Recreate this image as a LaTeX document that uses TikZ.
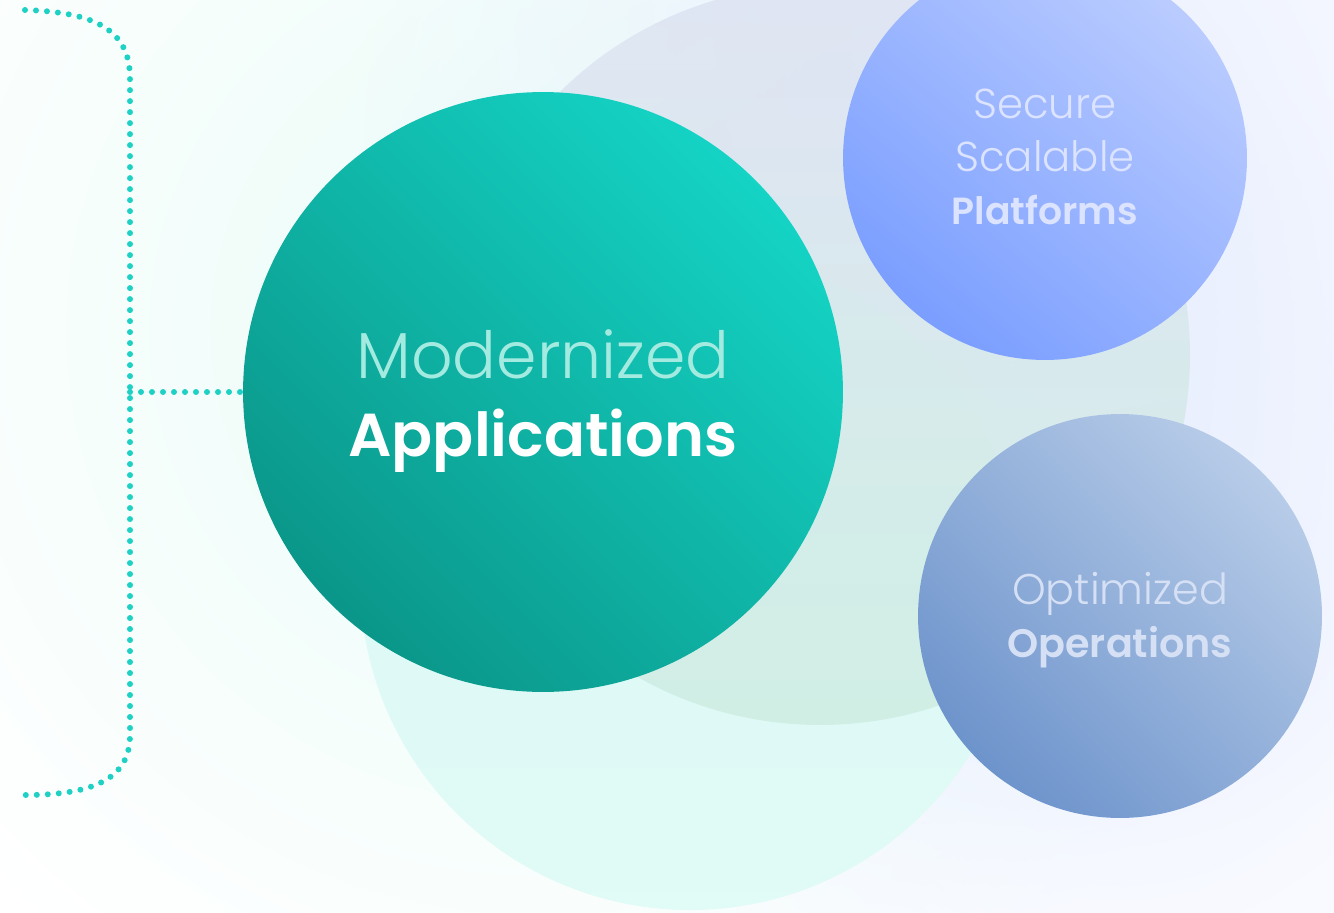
\documentclass[tikz,border=0pt]{standalone}
\usepackage{fontspec}
\setmainfont{Poppins}
\newfontfamily\thinfont{Poppins Light}
\newfontfamily\heavyfont{Poppins SemiBold}
\usetikzlibrary{fadings}
\usetikzlibrary{positioning}
\definecolor{mdots}{rgb}{0.12, 0.82, 0.77}
\definecolor{mtealdark}{rgb}{0.04, 0.59, 0.54}
\definecolor{mteallight}{rgb}{0.08, 0.83, 0.77}
\definecolor{modtext}{rgb}{0.64, 0.92, 0.88}
\definecolor{mbluedark}{rgb}{0.48, 0.62, 1.0}
\definecolor{mbluelight}{rgb}{0.73, 0.80, 1.0}
\definecolor{mslatedark}{rgb}{0.43, 0.58, 0.80}
\definecolor{mslatelight}{rgb}{0.72, 0.80, 0.91}
\definecolor{mbluetext}{rgb}{0.86, 0.89, 1.0}
\definecolor{mslatetext}{rgb}{0.84, 0.88, 0.96}
\definecolor{mmint}{rgb}{0.86, 0.98, 0.96}
\definecolor{mgreyblue}{rgb}{0.87, 0.89, 0.95}
\definecolor{mgreymint}{rgb}{0.81, 0.93, 0.89}
\definecolor{mglow}{rgb}{0.86, 0.98, 0.95}
\definecolor{mlilac}{rgb}{0.88, 0.91, 1.0}
\tikzfading[name=glowfade, inner color=transparent!0, outer color=transparent!100]
\tikzset{bubble/.style = {circle, inner sep = 0}}
\tikzset{caption/.style = {align = center, inner sep = 0}}
\tikzset{dotline/.style = {mdots, line width = 0.12cm, line cap = round, dash pattern = on 0pt off 0.22cm}}

\begin{document}
\begin{tikzpicture}[x=0.02cm, y=-0.02cm]
  \useasboundingbox (0, 0) rectangle (1334, 912);

  % soft glows behind everything
  \fill [mglow, opacity = 0.6, path fading = glowfade] (540, 330) circle (780);
  \fill [mlilac, opacity = 0.7, path fading = glowfade] (1045, 158) circle (700);
  \fill [mlilac, opacity = 0.55, path fading = glowfade] (1120, 616) circle (560);

  % backdrop discs
  \shade [top color = mmint, bottom color = mmint!85] (690, 580) circle (330);
  \shade [top color = mgreyblue, bottom color = mgreymint, opacity = 0.85] (820, 355) circle (370);

  \node [bubble, minimum size = 12cm, left color = mtealdark, right color = mteallight,
         shading angle = 135] (apps) at (543, 392) {};
  \node [bubble, minimum size = 8.08cm, left color = mbluedark, right color = mbluelight,
         shading angle = 140] (plat) at (1045, 158) {};
  \node [bubble, minimum size = 8.08cm, left color = mslatedark, right color = mslatelight,
         shading angle = 135] (ops) at (1120, 616) {};

  \node [caption, text = white, yshift = -0.18cm, font = \fontsize{37}{44}\selectfont] (appslabel) at (apps)
        {{\thinfont\color{modtext}Modernized}\\
         {\fontsize{34.5}{44}\heavyfont Applications}};
  \node [caption, text = mbluetext, yshift = 0.02cm, font = \fontsize{23.8}{30}\selectfont] (platlabel) at (plat)
        {{\thinfont Secure}\\
         {\thinfont Scalable}\\
         {\fontsize{21.5}{30}\heavyfont Platforms}};
  \node [caption, text = mslatetext, yshift = -0.08cm, font = \fontsize{24.4}{30}\selectfont] (opslabel) at (ops)
        {{\thinfont Optimized}\\
         {\fontsize{22.6}{30}\heavyfont Operations}};

  % bracket on the left
  \draw [dotline] (25, 10) .. controls (95, 12) and (130, 30) .. (130, 78)
        -- (130, 735) .. controls (130, 778) and (95, 795) .. (25, 795);
  \coordinate (bracemid) at (130, 392);
  \draw [dotline] (bracemid) -- (apps.west);
\end{tikzpicture}
\end{document}
